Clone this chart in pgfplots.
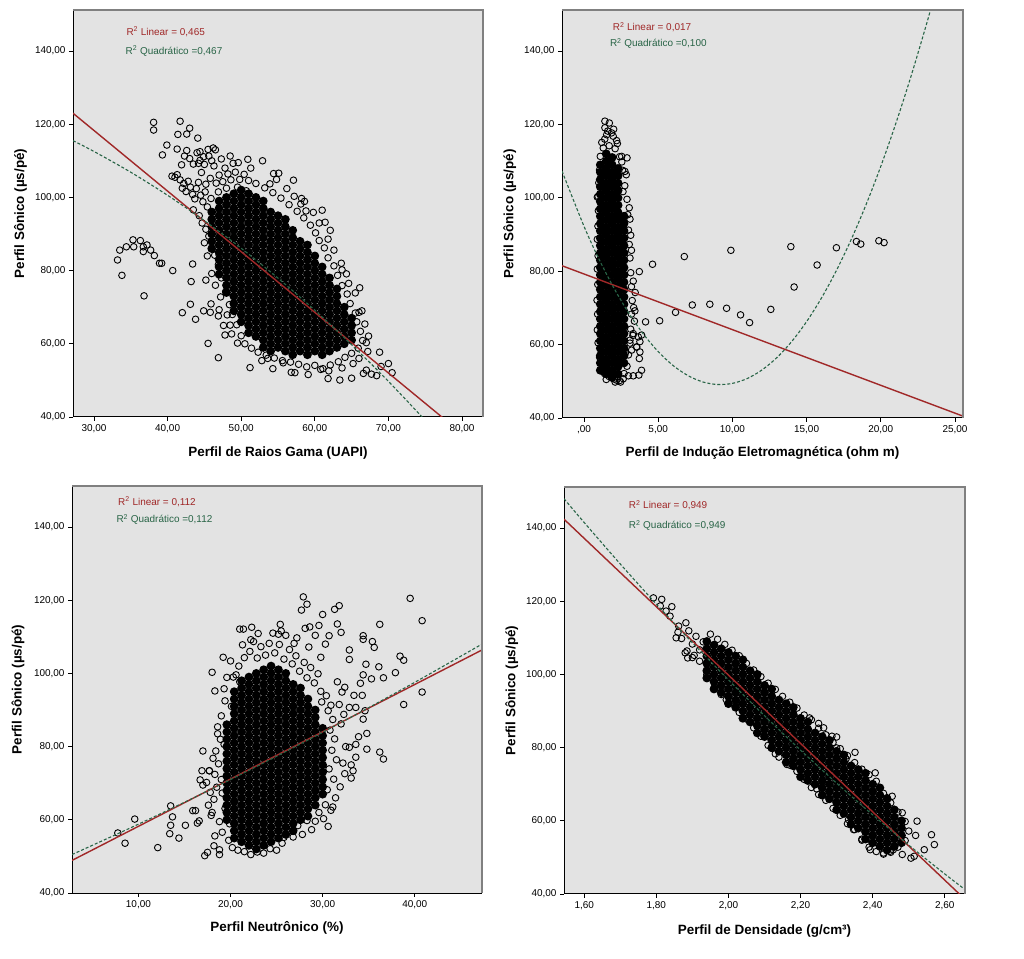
\documentclass[border=0pt]{standalone}
\usepackage{pgfplots}
\pgfplotsset{compat=1.18}
\usepackage{fontspec}
\setmainfont{Liberation Sans}
\definecolor{bggray}{RGB}{227,227,227}
\definecolor{framegray}{RGB}{128,128,128}
\definecolor{fitred}{RGB}{160,40,40}
\definecolor{fitgreen}{RGB}{40,100,70}
\tikzset{rtxt/.style={anchor=west, font=\fontsize{10}{12}\selectfont}}
\pgfplotsset{
 spss/.style={
  scale only axis, anchor=south west,
  axis x line*=bottom, axis y line*=left,
  axis line style={black, line width=1bp},
  axis background/.style={fill=bggray},
  clip mode=individual,
  ymin=40, ymax=151.2,
  ytick={40,60,80,100,120,140},
  yticklabels={{40,00},{60,00},{80,00},{100,00},{120,00},{140,00}},
  tick align=outside,
  major tick length=4bp,
  tick style={black, line width=0.8bp},
  tick label style={font=\fontsize{10}{12}\selectfont},
  label style={font=\fontsize{13.5}{16}\selectfont\bfseries},
  ylabel={Perfil Sônico (µs/pé)},
  ylabel style={at={(axis description cs:-0.128,0.5)}, anchor=center},
 },
 pts/.style={only marks, mark=o, mark size=3.3bp, mark options={line width=0.9bp, draw=black}},
 core/.style={only marks, mark=*, mark size=3.7bp, mark options={line width=1.3bp, draw=black, fill=black}},
 lin/.style={fitred, line width=1.4bp, no marks},
 quad/.style={fitgreen, line width=1.1bp, dash pattern=on 3bp off 2bp, no marks},
}
\begin{document}
\begin{tikzpicture}
\path[use as bounding box] (0bp,0bp) rectangle (1024bp,959bp);
% ---------------- Panel 1 ----------------
\begin{axis}[spss, at={(73bp,542bp)}, width=410bp, height=407bp,
  xmin=27.15, xmax=82.85, xtick={30,40,50,60,70,80},
  xticklabels={{30,00},{40,00},{50,00},{60,00},{70,00},{80,00}},
  xlabel={Perfil de Raios Gama (UAPI)},
  xlabel style={at={(axis description cs:0.5,-0.088)}, anchor=center}]
\addplot[core] table[row sep=\\]{x y\\
46 86\\46 88\\46 90\\46 92\\46 94\\46 96\\
47 79\\47 81\\47 83\\47 85\\47 87\\47 89\\47 91\\47 93\\47 95\\47 97\\47 99\\
48 74\\48 76\\48 78\\48 80\\48 82\\48 84\\48 86\\48 88\\48 90\\48 92\\48 94\\48 96\\48 98\\48 100\\
49 69\\49 71\\49 73\\49 75\\49 77\\49 79\\49 81\\49 83\\49 85\\49 87\\49 89\\49 91\\49 93\\49 95\\49 97\\49 99\\49 101\\
50 66\\50 68\\50 70\\50 72\\50 74\\50 76\\50 78\\50 80\\50 82\\50 84\\50 86\\50 88\\50 90\\50 92\\50 94\\50 96\\50 98\\50 100\\50 102\\
51 63\\51 65\\51 67\\51 69\\51 71\\51 73\\51 75\\51 77\\51 79\\51 81\\51 83\\51 85\\51 87\\51 89\\51 91\\51 93\\51 95\\51 97\\51 99\\51 101\\
52 62\\52 64\\52 66\\52 68\\52 70\\52 72\\52 74\\52 76\\52 78\\52 80\\52 82\\52 84\\52 86\\52 88\\52 90\\52 92\\52 94\\52 96\\52 98\\52 100\\
53 59\\53 61\\53 63\\53 65\\53 67\\53 69\\53 71\\53 73\\53 75\\53 77\\53 79\\53 81\\53 83\\53 85\\53 87\\53 89\\53 91\\53 93\\53 95\\53 97\\53 99\\
54 58\\54 60\\54 62\\54 64\\54 66\\54 68\\54 70\\54 72\\54 74\\54 76\\54 78\\54 80\\54 82\\54 84\\54 86\\54 88\\54 90\\54 92\\54 94\\54 96\\
55 59\\55 61\\55 63\\55 65\\55 67\\55 69\\55 71\\55 73\\55 75\\55 77\\55 79\\55 81\\55 83\\55 85\\55 87\\55 89\\55 91\\55 93\\55 95\\
56 58\\56 60\\56 62\\56 64\\56 66\\56 68\\56 70\\56 72\\56 74\\56 76\\56 78\\56 80\\56 82\\56 84\\56 86\\56 88\\56 90\\56 92\\56 94\\
57 57\\57 59\\57 61\\57 63\\57 65\\57 67\\57 69\\57 71\\57 73\\57 75\\57 77\\57 79\\57 81\\57 83\\57 85\\57 87\\57 89\\57 91\\
58 58\\58 60\\58 62\\58 64\\58 66\\58 68\\58 70\\58 72\\58 74\\58 76\\58 78\\58 80\\58 82\\58 84\\58 86\\58 88\\
59 57\\59 59\\59 61\\59 63\\59 65\\59 67\\59 69\\59 71\\59 73\\59 75\\59 77\\59 79\\59 81\\59 83\\59 85\\59 87\\
60 58\\60 60\\60 62\\60 64\\60 66\\60 68\\60 70\\60 72\\60 74\\60 76\\60 78\\60 80\\60 82\\60 84\\
61 57\\61 59\\61 61\\61 63\\61 65\\61 67\\61 69\\61 71\\61 73\\61 75\\61 77\\61 79\\61 81\\
62 58\\62 60\\62 62\\62 64\\62 66\\62 68\\62 70\\62 72\\62 74\\62 76\\62 78\\
63 59\\63 61\\63 63\\63 65\\63 67\\63 69\\63 71\\63 73\\63 75\\
64 60\\64 62\\64 64\\64 66\\64 68\\64 70\\
65 61\\65 63\\65 65\\65 67\\
};
\addplot[pts] table[row sep=\\]{x y\\
33.2 82.9\\33.5 85.6\\33.8 78.7\\34.4 86.5\\35.3 88.4\\35.4 86.5\\36.3 88.2\\36.7 86.5\\36.7 85.2\\37.2 87.0\\37.7 85.6\\38.2 84.1\\38.9 82.0\\39.2 82.0\\36.8 73.1\\40.7 80.0\\
38.1 120.5\\38.1 118.4\\41.7 120.8\\41.4 117.2\\43.0 118.9\\42.6 117.3\\44.1 116.2\\39.9 114.3\\39.3 111.6\\
43.4 81.8\\43.2 77.0\\45.2 77.4\\43.1 70.8\\42.0 68.5\\43.8 66.7\\44.9 69.0\\45.9 70.9\\45.8 68.6\\47.0 69.3\\45.5 60.1\\46.9 56.2\\47.8 62.4\\48.5 65.1\\51.2 53.5\\43.5 96.6\\
61.4 93.2\\66.1 75.3\\63.7 80.2\\66.0 68.6\\67.0 60.3\\68.8 57.7\\70.0 54.6\\70.5 52.1\\63.4 50.1\\60.8 53.0\\61.8 50.5\\56.8 52.2\\55.7 54.8\\53.6 56.0\\65.0 50.6\\67.0 52.8\\67.7 51.7\\68.4 51.3\\69.0 53.8\\66.6 51.9\\
50.9 110.4\\52.9 110.0\\54.8 104.9\\57.1 104.7\\58.2 99.7\\58.8 96.3\\58.1 98.2\\54.4 106.5\\55.1 106.6\\51.3 108.0\\46.2 113.5\\45.5 113.1\\44.4 112.5\\44.9 111.1\\44.2 109.3\\48.5 111.3\\48.9 109.3\\49.6 109.5\\
41.0 105.5\\41.3 106.2\\41.7 104.8\\42.0 102.5\\42.2 103.8\\42.5 101.6\\42.8 104.4\\43.1 102.8\\43.4 100.8\\43.7 99.6\\43.9 102.4\\44.2 104.1\\44.5 100.6\\44.8 98.8\\45.1 101.5\\45.4 97.4\\45.2 103.6\\44.6 106.8\\45.8 105.2\\46.3 108.6\\46.6 103.9\\47.0 106.1\\47.5 104.3\\47.8 108.0\\48.2 106.4\\48.6 104.8\\49.2 106.9\\49.8 104.9\\50.4 106.3\\51.0 104.6\\50.7 101.8\\49.5 102.8\\48.0 102.5\\46.9 101.5\\45.9 99.7\\43.0 110.6\\43.5 109.1\\44.0 112.2\\44.4 110.1\\45.0 109.0\\45.6 111.3\\46.0 110.0\\46.5 113.0\\47.3 110.5\\42.3 111.3\\41.9 108.9\\42.6 112.8\\41.3 113.2\\40.6 105.8\\
44.7 93.0\\44.3 95.0\\45.2 91.3\\45.6 89.4\\45.0 87.6\\46.4 84.2\\46.9 81.6\\47.3 78.0\\47.9 74.3\\48.4 70.7\\48.8 68.0\\49.4 65.2\\50.0 62.2\\50.5 60.0\\51.4 58.8\\52.3 57.7\\53.4 56.9\\54.5 56.1\\55.6 55.4\\56.7 55.0\\57.8 54.4\\58.9 53.7\\60.0 54.1\\61.1 53.2\\62.1 54.2\\63.2 55.1\\64.1 56.3\\65.0 57.4\\65.9 58.8\\66.5 60.9\\66.2 63.4\\65.7 66.0\\65.5 68.4\\64.8 71.0\\64.4 73.6\\63.7 75.9\\63.1 78.7\\62.6 81.3\\61.8 83.5\\61.3 86.2\\60.6 88.2\\60.1 90.3\\59.4 92.4\\58.5 94.4\\57.6 96.2\\56.5 98.0\\55.4 99.8\\54.3 101.3\\53.2 102.6\\52.0 103.8\\59.8 95.9\\60.6 93.0\\61.8 88.6\\62.6 85.6\\63.6 82.0\\64.3 79.1\\62.1 91.0\\61.0 96.5\\57.2 100.3\\56.2 102.4\\53.9 103.7\\58.6 98.9\\66.8 65.4\\67.3 62.1\\66.4 69.0\\65.5 73.9\\64.6 76.5\\52.8 55.4\\54.3 53.2\\57.3 52.1\\59.1 51.6\\61.9 52.6\\63.7 53.4\\65.2 54.6\\66.0 56.0\\67.2 57.9\\49.5 60.2\\48.7 62.7\\47.6 65.0\\46.9 67.6\\48.1 67.9\\47.2 72.8\\46.5 76.0\\46.0 79.2\\47.0 84.3\\45.4 84.0\\
};
\addplot[lin] coordinates {(27.15,123.0) (77.5,39.6)};
\addplot[quad, smooth] coordinates {(27.15,115.5) (30,112.55) (35,106.87) (40,100.57) (45,93.64) (50,86.11) (55,77.94) (60,69.17) (65,59.76) (70,49.74) (75,39.1)};
\draw[framegray, line width=1.8bp] (rel axis cs:0,1) -- (rel axis cs:1,1) -- (rel axis cs:1,0);
\node[rtxt, text=fitred] at (rel axis cs:0.122,0.946) {R\textsuperscript{2} Linear = 0,465};
\node[rtxt, text=fitgreen] at (rel axis cs:0.120,0.899) {R\textsuperscript{2} Quadrático =0,467};
\end{axis}
% ---------------- Panel 2 ----------------
\begin{axis}[spss, at={(562bp,541bp)}, width=401bp, height=408bp,
  xmin=-1.48, xmax=25.54, xtick={0,5,10,15,20,25},
  xticklabels={{,00},{5,00},{10,00},{15,00},{20,00},{25,00}},
  xlabel={Perfil de Indução Eletromagnética (ohm m)},
  xlabel style={at={(axis description cs:0.5,-0.087)}, anchor=center},
  ylabel style={at={(axis description cs:-0.130,0.5)}, anchor=center}]
\addplot[core] table[row sep=\\]{x y\\
1.1 53\\1.1 55\\1.1 57\\1.1 59\\1.1 61\\1.1 63\\1.1 65\\1.1 67\\1.1 69\\1.1 71\\1.1 73\\1.1 75\\1.1 77\\1.1 79\\1.1 81\\1.1 83\\1.1 85\\1.1 87\\1.1 89\\1.1 91\\1.1 93\\1.1 95\\1.1 97\\1.1 99\\1.1 101\\1.1 103\\1.1 105\\1.1 107\\1.1 109\\
1.5 52\\1.5 54\\1.5 56\\1.5 58\\1.5 60\\1.5 62\\1.5 64\\1.5 66\\1.5 68\\1.5 70\\1.5 72\\1.5 74\\1.5 76\\1.5 78\\1.5 80\\1.5 82\\1.5 84\\1.5 86\\1.5 88\\1.5 90\\1.5 92\\1.5 94\\1.5 96\\1.5 98\\1.5 100\\1.5 102\\1.5 104\\1.5 106\\1.5 108\\1.5 110\\1.5 112\\
1.9 51\\1.9 53\\1.9 55\\1.9 57\\1.9 59\\1.9 61\\1.9 63\\1.9 65\\1.9 67\\1.9 69\\1.9 71\\1.9 73\\1.9 75\\1.9 77\\1.9 79\\1.9 81\\1.9 83\\1.9 85\\1.9 87\\1.9 89\\1.9 91\\1.9 93\\1.9 95\\1.9 97\\1.9 99\\1.9 101\\1.9 103\\1.9 105\\1.9 107\\1.9 109\\1.9 111\\
2.3 52\\2.3 54\\2.3 56\\2.3 58\\2.3 60\\2.3 62\\2.3 64\\2.3 66\\2.3 68\\2.3 70\\2.3 72\\2.3 74\\2.3 76\\2.3 78\\2.3 80\\2.3 82\\2.3 84\\2.3 86\\2.3 88\\2.3 90\\2.3 92\\2.3 94\\2.3 96\\2.3 98\\2.3 100\\2.3 102\\2.3 104\\2.3 106\\2.3 108\\
2.7 55\\2.7 57\\2.7 59\\2.7 61\\2.7 63\\2.7 65\\2.7 67\\2.7 69\\2.7 71\\2.7 73\\2.7 75\\2.7 77\\2.7 79\\2.7 81\\2.7 83\\2.7 85\\2.7 87\\2.7 89\\2.7 91\\2.7 93\\2.7 95\\
};
\addplot[pts] table[row sep=\\]{x y\\
3.73 79.9\\3.32 77.3\\3.43 69.2\\4.15 66.2\\4.62 81.9\\5.10 66.5\\6.17 68.8\\6.76 84.0\\7.30 70.8\\8.48 71.0\\9.61 69.9\\9.90 85.7\\10.55 68.1\\11.16 66.0\\12.59 69.6\\13.94 86.7\\14.16 75.7\\15.71 81.7\\17.01 86.4\\18.36 88.1\\18.65 87.4\\19.87 88.3\\20.22 87.8\\
3.32 63.0\\3.66 62.1\\3.77 60.8\\3.88 62.6\\3.55 59.4\\3.73 56.2\\3.77 58.0\\3.88 53.0\\3.70 51.7\\3.32 51.5\\2.99 51.5\\2.65 50.7\\2.47 49.8\\2.2 50.3\\1.75 52.6\\1.39 52.1\\3.21 58.5\\3.10 61.2\\
0.95 60.5\\0.9 64.0\\0.92 68.3\\0.88 72.1\\0.93 76.4\\0.9 80.6\\0.95 84.2\\0.9 88.7\\0.94 92.3\\0.97 96.5\\0.95 100.4\\1.0 104.1\\1.05 107.6\\1.1 111.3\\1.3 113.6\\1.7 114.2\\2.1 113.4\\2.4 111.2\\2.6 107.5\\2.75 103.3\\2.9 99.6\\2.95 95.4\\3.0 91.2\\3.05 87.3\\3.1 83.6\\3.15 79.6\\3.2 75.8\\3.25 72.0\\3.2 68.3\\3.15 64.2\\3.1 60.4\\3.0 57.2\\2.9 54.1\\2.7 52.1\\2.4 50.2\\2.05 50.6\\1.7 51.3\\1.3 52.6\\1.05 56.6\\3.35 70.1\\3.4 66.4\\3.3 62.5\\3.45 74.2\\2.8 57.8\\2.55 109.8\\3.55 59.3\\2.1 49.8\\1.5 50.5\\0.9 100.2\\2.9 110.9\\2.85 106.3\\3.05 97.3\\3.1 94.2\\3.15 89.8\\3.2 85.7\\1.4 116.0\\1.6 118.2\\2.0 118.7\\
1.41 120.9\\1.71 120.4\\1.41 119.1\\1.86 117.7\\1.53 117.2\\1.97 116.8\\1.2 115.1\\2.2 115.6\\2.25 114.8\\2.54 111.3\\2.76 107.2\\2.63 101.7\\
};
\addplot[lin] coordinates {(-1.48,81.5) (25.54,40.5)};
\addplot[quad, smooth] coordinates {(-1.48,107.3) (0,92.27) (1,83.39) (2,75.54) (3,68.70) (4,62.89) (5,58.10) (6,54.32) (7,51.57) (8,49.83) (9,49.12) (10,49.43) (11,50.75) (12,53.10) (13,56.46) (14,60.85) (15,66.26) (16,72.68) (17,80.13) (18,88.59) (19,98.08) (20,108.59) (21,120.11) (22,132.66) (23,146.22) (23.5,153.39)};
\draw[framegray, line width=1.8bp] (rel axis cs:0,1) -- (rel axis cs:1,1) -- (rel axis cs:1,0);
\node[rtxt, text=fitred] at (rel axis cs:0.118,0.958) {R\textsuperscript{2} Linear = 0,017};
\node[rtxt, text=fitgreen] at (rel axis cs:0.111,0.918) {R\textsuperscript{2} Quadrático =0,100};
\end{axis}
% ---------------- Panel 3 ----------------
\begin{axis}[spss, at={(72bp,66bp)}, width=410bp, height=407bp,
  xmin=2.79, xmax=47.3, xtick={10,20,30,40},
  xticklabels={{10,00},{20,00},{30,00},{40,00}},
  xlabel={Perfil Neutrônico (\%)},
  xlabel style={at={(axis description cs:0.5,-0.086)}, anchor=center},
  ylabel style={at={(axis description cs:-0.132,0.5)}, anchor=center}]
\addplot[core] table[row sep=\\]{x y\\
19.6 60\\19.6 62\\19.6 64\\19.6 66\\19.6 68\\19.6 70\\19.6 72\\19.6 74\\19.6 76\\19.6 78\\19.6 80\\19.6 82\\19.6 84\\19.6 86\\
20.4 55\\20.4 57\\20.4 59\\20.4 61\\20.4 63\\20.4 65\\20.4 67\\20.4 69\\20.4 71\\20.4 73\\20.4 75\\20.4 77\\20.4 79\\20.4 81\\20.4 83\\20.4 85\\20.4 87\\20.4 89\\20.4 91\\20.4 93\\20.4 95\\
21.2 54\\21.2 56\\21.2 58\\21.2 60\\21.2 62\\21.2 64\\21.2 66\\21.2 68\\21.2 70\\21.2 72\\21.2 74\\21.2 76\\21.2 78\\21.2 80\\21.2 82\\21.2 84\\21.2 86\\21.2 88\\21.2 90\\21.2 92\\21.2 94\\21.2 96\\21.2 98\\
22.0 53\\22.0 55\\22.0 57\\22.0 59\\22.0 61\\22.0 63\\22.0 65\\22.0 67\\22.0 69\\22.0 71\\22.0 73\\22.0 75\\22.0 77\\22.0 79\\22.0 81\\22.0 83\\22.0 85\\22.0 87\\22.0 89\\22.0 91\\22.0 93\\22.0 95\\22.0 97\\22.0 99\\
22.8 52\\22.8 54\\22.8 56\\22.8 58\\22.8 60\\22.8 62\\22.8 64\\22.8 66\\22.8 68\\22.8 70\\22.8 72\\22.8 74\\22.8 76\\22.8 78\\22.8 80\\22.8 82\\22.8 84\\22.8 86\\22.8 88\\22.8 90\\22.8 92\\22.8 94\\22.8 96\\22.8 98\\22.8 100\\
23.6 53\\23.6 55\\23.6 57\\23.6 59\\23.6 61\\23.6 63\\23.6 65\\23.6 67\\23.6 69\\23.6 71\\23.6 73\\23.6 75\\23.6 77\\23.6 79\\23.6 81\\23.6 83\\23.6 85\\23.6 87\\23.6 89\\23.6 91\\23.6 93\\23.6 95\\23.6 97\\23.6 99\\23.6 101\\
24.4 54\\24.4 56\\24.4 58\\24.4 60\\24.4 62\\24.4 64\\24.4 66\\24.4 68\\24.4 70\\24.4 72\\24.4 74\\24.4 76\\24.4 78\\24.4 80\\24.4 82\\24.4 84\\24.4 86\\24.4 88\\24.4 90\\24.4 92\\24.4 94\\24.4 96\\24.4 98\\24.4 100\\24.4 102\\
25.2 55\\25.2 57\\25.2 59\\25.2 61\\25.2 63\\25.2 65\\25.2 67\\25.2 69\\25.2 71\\25.2 73\\25.2 75\\25.2 77\\25.2 79\\25.2 81\\25.2 83\\25.2 85\\25.2 87\\25.2 89\\25.2 91\\25.2 93\\25.2 95\\25.2 97\\25.2 99\\25.2 101\\
26.0 56\\26.0 58\\26.0 60\\26.0 62\\26.0 64\\26.0 66\\26.0 68\\26.0 70\\26.0 72\\26.0 74\\26.0 76\\26.0 78\\26.0 80\\26.0 82\\26.0 84\\26.0 86\\26.0 88\\26.0 90\\26.0 92\\26.0 94\\26.0 96\\26.0 98\\26.0 100\\
26.8 57\\26.8 59\\26.8 61\\26.8 63\\26.8 65\\26.8 67\\26.8 69\\26.8 71\\26.8 73\\26.8 75\\26.8 77\\26.8 79\\26.8 81\\26.8 83\\26.8 85\\26.8 87\\26.8 89\\26.8 91\\26.8 93\\26.8 95\\26.8 97\\
27.6 60\\27.6 62\\27.6 64\\27.6 66\\27.6 68\\27.6 70\\27.6 72\\27.6 74\\27.6 76\\27.6 78\\27.6 80\\27.6 82\\27.6 84\\27.6 86\\27.6 88\\27.6 90\\27.6 92\\27.6 94\\27.6 96\\
28.4 61\\28.4 63\\28.4 65\\28.4 67\\28.4 69\\28.4 71\\28.4 73\\28.4 75\\28.4 77\\28.4 79\\28.4 81\\28.4 83\\28.4 85\\28.4 87\\28.4 89\\28.4 91\\28.4 93\\
29.2 64\\29.2 66\\29.2 68\\29.2 70\\29.2 72\\29.2 74\\29.2 76\\29.2 78\\29.2 80\\29.2 82\\29.2 84\\29.2 86\\29.2 88\\29.2 90\\
30.0 67\\30.0 69\\30.0 71\\30.0 73\\30.0 75\\30.0 77\\30.0 79\\30.0 81\\30.0 83\\30.0 85\\
};
\addplot[pts] table[row sep=\\]{x y\\
7.76 56.4\\8.55 53.6\\9.6 60.2\\12.1 52.4\\13.4 56.2\\13.5 63.8\\13.5 58.5\\13.7 60.8\\14.4 55.0\\15.1 58.5\\15.9 62.5\\16.2 62.5\\16.4 59.1\\16.6 59.7\\17.0 78.8\\16.9 73.4\\16.7 70.9\\17.0 69.5\\17.7 73.4\\17.2 50.2\\17.5 51.1\\18.0 100.3\\18.3 95.2\\19.2 104.4\\18.8 51.8\\18.8 50.5\\18.3 55.6\\18.2 52.9\\
27.9 120.9\\27.7 117.3\\28.3 118.9\\21.0 112.1\\21.4 112.1\\25.2 110.7\\25.5 111.6\\30.0 116.1\\29.6 113.1\\30.7 110.3\\31.3 117.5\\31.8 118.5\\31.6 113.5\\32.0 111.2\\32.9 106.4\\32.9 103.8\\34.4 110.3\\34.4 109.3\\34.7 102.5\\34.4 99.6\\34.1 97.3\\34.3 94.0\\32.4 96.2\\32.9 90.7\\33.6 90.7\\33.4 94.0\\34.6 89.8\\34.4 87.5\\33.9 82.7\\34.8 83.6\\33.6 80.6\\32.9 79.8\\34.8 79.3\\33.1 75.0\\33.1 71.4\\33.3 73.4\\33.6 77.1\\35.4 108.7\\35.6 107.1\\35.3 98.5\\36.1 101.8\\36.2 113.4\\36.6 98.8\\36.2 78.5\\36.6 76.6\\37.9 100.2\\38.4 104.7\\38.8 103.6\\38.8 91.5\\39.5 120.5\\40.8 114.4\\40.8 94.9\\
18.0 62.0\\18.2 65.6\\18.5 68.9\\18.3 72.4\\18.7 75.3\\18.4 78.8\\18.9 82.0\\18.6 85.4\\19.0 88.4\\18.8 59.5\\19.1 56.6\\19.4 92.5\\19.3 95.8\\19.6 98.9\\19.8 54.4\\20.2 52.4\\20.6 99.6\\19.0 71.0\\17.6 64.0\\17.8 67.5\\17.4 70.2\\17.9 61.2\\19.3 80.6\\19.1 67.3\\19.4 63.1\\18.1 76.8\\17.7 73.4\\20.0 103.4\\20.9 102.0\\21.5 104.3\\21.3 107.8\\22.1 106.0\\22.5 108.7\\22.9 104.2\\23.3 107.3\\23.8 105.0\\24.2 108.2\\24.8 105.6\\25.3 107.9\\25.8 103.9\\26.4 106.5\\26.7 102.6\\27.1 104.8\\27.5 100.6\\28.0 103.0\\28.3 98.8\\28.7 101.6\\29.1 97.4\\29.5 99.9\\29.8 95.1\\29.9 92.2\\30.4 93.9\\30.6 89.8\\30.9 91.3\\31.1 87.4\\30.8 84.5\\31.3 82.1\\31.0 79.0\\31.5 76.4\\30.7 73.9\\31.2 71.1\\30.5 68.2\\31.4 66.0\\30.3 64.1\\30.9 62.6\\30.1 60.3\\29.6 62.0\\29.2 59.6\\28.8 57.3\\28.3 59.8\\27.8 56.0\\27.3 58.4\\26.8 55.3\\26.2 56.9\\25.6 53.6\\25.0 51.7\\24.3 52.1\\23.6 50.9\\22.9 51.2\\22.2 50.5\\21.5 51.3\\20.8 51.7\\32.0 86.2\\32.3 88.8\\31.8 91.5\\32.1 94.9\\31.6 97.7\\32.5 80.0\\32.2 75.5\\31.9 69.0\\32.4 72.6\\29.8 104.4\\28.5 107.2\\27.2 109.7\\26.0 110.4\\24.6 111.0\\23.0 110.9\\29.2 110.4\\30.3 108.0\\28.1 112.3\\26.9 108.2\\22.2 109.2\\21.0 97.7\\19.9 58.9\\20.1 91.0\\30.6 58.2\\31.1 63.5\\25.8 55.2\\28.6 112.7\\22.3 112.6\\25.4 113.4\\20.3 99.0\\18.6 83.5\\
};
\addplot[lin] coordinates {(2.79,48.9) (47.3,106.4)};
\addplot[quad, smooth] coordinates {(2.79,50.5) (10,58.8) (17,67.25) (25,77.34) (33,87.92) (40,97.56) (47.3,108.0)};
\draw[framegray, line width=1.8bp] (rel axis cs:0,1) -- (rel axis cs:1,1) -- (rel axis cs:1,0);
\node[rtxt, text=fitred] at (rel axis cs:0.104,0.961) {R\textsuperscript{2} Linear = 0,112};
\node[rtxt, text=fitgreen] at (rel axis cs:0.100,0.918) {R\textsuperscript{2} Quadrático =0,112};
\end{axis}
% ---------------- Panel 4 ----------------
\begin{axis}[spss, at={(564bp,65bp)}, width=401bp, height=407bp,
  xmin=1.544, xmax=2.656, xtick={1.6,1.8,2.0,2.2,2.4,2.6},
  xticklabels={{1,60},{1,80},{2,00},{2,20},{2,40},{2,60}},
  xlabel={Perfil de Densidade (g/cm³)},
  xlabel style={at={(axis description cs:0.5,-0.092)}, anchor=center},
  ylabel style={at={(axis description cs:-0.130,0.5)}, anchor=center}]
\addplot[core] table[row sep=\\]{x y\\
1.94 99\\1.94 101\\1.94 103\\1.94 105\\1.94 107\\1.94 109\\
1.96 96\\1.96 98\\1.96 100\\1.96 102\\1.96 104\\1.96 106\\1.96 108\\
1.98 95\\1.98 97\\1.98 99\\1.98 101\\1.98 103\\1.98 105\\1.98 107\\
2.00 92\\2.00 94\\2.00 96\\2.00 98\\2.00 100\\2.00 102\\2.00 104\\2.00 106\\
2.02 91\\2.02 93\\2.02 95\\2.02 97\\2.02 99\\2.02 101\\2.02 103\\2.02 105\\
2.04 88\\2.04 90\\2.04 92\\2.04 94\\2.04 96\\2.04 98\\2.04 100\\2.04 102\\2.04 104\\
2.06 87\\2.06 89\\2.06 91\\2.06 93\\2.06 95\\2.06 97\\2.06 99\\2.06 101\\
2.08 84\\2.08 86\\2.08 88\\2.08 90\\2.08 92\\2.08 94\\2.08 96\\2.08 98\\2.08 100\\
2.10 83\\2.10 85\\2.10 87\\2.10 89\\2.10 91\\2.10 93\\2.10 95\\2.10 97\\
2.12 80\\2.12 82\\2.12 84\\2.12 86\\2.12 88\\2.12 90\\2.12 92\\2.12 94\\2.12 96\\
2.14 79\\2.14 81\\2.14 83\\2.14 85\\2.14 87\\2.14 89\\2.14 91\\2.14 93\\
2.16 76\\2.16 78\\2.16 80\\2.16 82\\2.16 84\\2.16 86\\2.16 88\\2.16 90\\2.16 92\\
2.18 75\\2.18 77\\2.18 79\\2.18 81\\2.18 83\\2.18 85\\2.18 87\\2.18 89\\2.18 91\\
2.20 72\\2.20 74\\2.20 76\\2.20 78\\2.20 80\\2.20 82\\2.20 84\\2.20 86\\2.20 88\\
2.22 71\\2.22 73\\2.22 75\\2.22 77\\2.22 79\\2.22 81\\2.22 83\\2.22 85\\2.22 87\\
2.24 70\\2.24 72\\2.24 74\\2.24 76\\2.24 78\\2.24 80\\2.24 82\\2.24 84\\
2.26 67\\2.26 69\\2.26 71\\2.26 73\\2.26 75\\2.26 77\\2.26 79\\2.26 81\\2.26 83\\
2.28 66\\2.28 68\\2.28 70\\2.28 72\\2.28 74\\2.28 76\\2.28 78\\2.28 80\\2.28 82\\
2.30 63\\2.30 65\\2.30 67\\2.30 69\\2.30 71\\2.30 73\\2.30 75\\2.30 77\\2.30 79\\
2.32 62\\2.32 64\\2.32 66\\2.32 68\\2.32 70\\2.32 72\\2.32 74\\2.32 76\\2.32 78\\
2.34 59\\2.34 61\\2.34 63\\2.34 65\\2.34 67\\2.34 69\\2.34 71\\2.34 73\\2.34 75\\
2.36 58\\2.36 60\\2.36 62\\2.36 64\\2.36 66\\2.36 68\\2.36 70\\2.36 72\\2.36 74\\
2.38 55\\2.38 57\\2.38 59\\2.38 61\\2.38 63\\2.38 65\\2.38 67\\2.38 69\\2.38 71\\2.38 73\\
2.40 54\\2.40 56\\2.40 58\\2.40 60\\2.40 62\\2.40 64\\2.40 66\\2.40 68\\2.40 70\\
2.42 53\\2.42 55\\2.42 57\\2.42 59\\2.42 61\\2.42 63\\2.42 65\\2.42 67\\2.42 69\\
2.44 52\\2.44 54\\2.44 56\\2.44 58\\2.44 60\\2.44 62\\2.44 64\\2.44 66\\
2.46 53\\2.46 55\\2.46 57\\2.46 59\\2.46 61\\2.46 63\\
2.48 54\\2.48 56\\2.48 58\\2.48 60\\
};
\addplot[pts] table[row sep=\\]{x y\\
1.792 120.9\\1.815 120.5\\1.811 118.7\\1.843 118.5\\1.827 117.3\\1.838 115.9\\1.862 113.2\\1.882 114.1\\1.855 110.0\\1.885 106.4\\1.887 104.5\\1.905 105.2\\1.942 99.5\\1.977 96.3\\1.994 93.1\\2.021 92.7\\2.162 75.4\\2.225 88.1\\2.25 86.6\\2.264 85.4\\2.287 83.1\\2.30 82.9\\2.30 79.9\\2.326 76.9\\2.351 78.7\\2.245 68.7\\2.266 67.3\\2.407 73.1\\2.44 66.3\\2.454 66.7\\2.482 62.2\\2.523 59.9\\2.519 56.0\\2.563 56.2\\2.571 53.5\\2.543 52.1\\2.515 50.3\\2.506 49.8\\2.482 50.8\\2.393 52.1\\2.37 54.7\\2.347 57.6\\2.333 60.3\\2.393 54.9\\2.430 51.2\\2.448 51.7\\2.457 52.1\\
1.86 111.5\\1.87 109.8\\1.89 111.9\\1.90 108.3\\1.91 110.4\\1.92 106.7\\1.93 108.9\\1.90 104.6\\1.88 105.9\\1.92 103.6\\1.95 102.8\\1.94 99.9\\1.96 96.3\\1.98 94.5\\2.00 92.1\\2.03 89.6\\2.05 87.8\\2.07 85.4\\2.09 83.1\\2.11 80.6\\2.13 78.3\\2.17 75.2\\2.19 73.5\\2.21 71.3\\2.23 69.1\\2.25 67.2\\2.27 65.6\\2.29 63.4\\2.31 61.5\\2.33 59.2\\2.35 57.6\\2.37 55.0\\2.39 52.8\\2.41 51.6\\2.43 50.9\\2.45 51.4\\2.47 52.8\\2.49 54.6\\2.50 57.2\\2.49 59.8\\2.47 62.4\\2.45 64.9\\2.43 67.5\\2.41 70.8\\2.39 72.6\\2.37 74.1\\2.35 75.9\\2.33 77.8\\2.31 79.7\\2.29 81.4\\2.27 83.5\\2.25 85.3\\2.23 87.6\\2.21 88.9\\2.19 90.8\\2.17 92.4\\2.15 94.0\\2.13 95.9\\2.11 97.6\\2.09 99.4\\2.07 101.2\\2.05 103.0\\2.03 105.1\\2.01 106.6\\1.99 108.2\\1.97 109.6\\1.95 111.0\\2.15 80.0\\2.14 77.4\\2.12 79.8\\2.18 75.8\\2.26 70.6\\
};
\addplot[lin] coordinates {(1.544,142.4) (2.656,38.54)};
\addplot[quad, smooth] coordinates {(1.544,148.0) (1.6,141.49) (1.7,130.17) (1.8,119.23) (1.9,108.67) (2.0,98.50) (2.1,88.71) (2.2,79.30) (2.3,70.27) (2.4,61.62) (2.5,53.36) (2.6,45.47) (2.656,41.23)};
\draw[framegray, line width=1.8bp] (rel axis cs:0,1) -- (rel axis cs:1,1) -- (rel axis cs:1,0);
\node[rtxt, text=fitred] at (rel axis cs:0.153,0.955) {R\textsuperscript{2} Linear = 0,949};
\node[rtxt, text=fitgreen] at (rel axis cs:0.153,0.905) {R\textsuperscript{2} Quadrático =0,949};
\end{axis}
\end{tikzpicture}
\end{document}
